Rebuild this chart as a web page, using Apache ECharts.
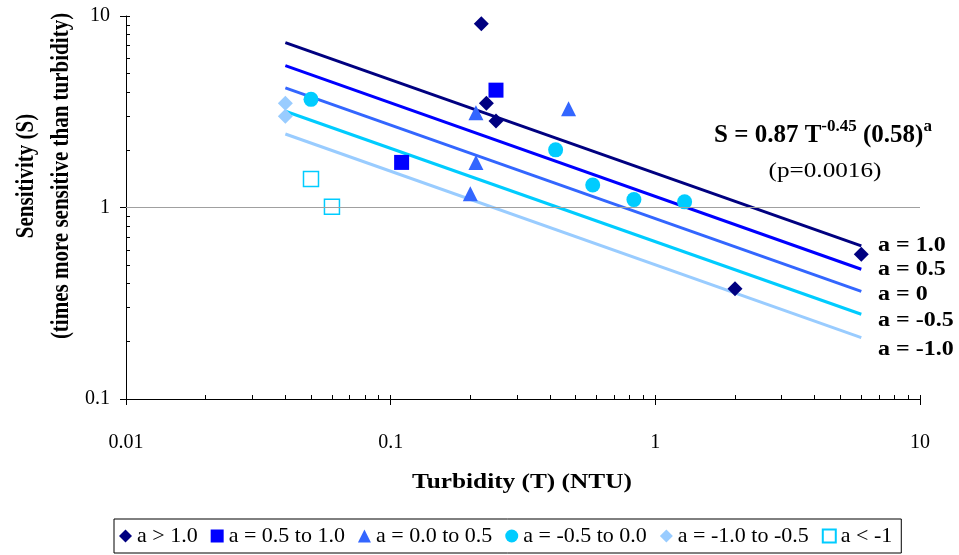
<!DOCTYPE html>
<html>
<head>
<meta charset="utf-8">
<script src="https://cdn.jsdelivr.net/npm/echarts@6/dist/echarts.min.js"></script>
<style>
html,body{margin:0;padding:0;background:#fff;}
#chart{width:959px;height:555px;}
</style>
</head>
<body>
<div id="chart"></div>
<script>
// ---- data ----
const xTickValues = [0.01, 0.1, 1, 10];
const yTickValues = [0.1, 1, 10];
const xMinorTicks = [0.01,0.02,0.03,0.04,0.05,0.06,0.07,0.08,0.09,0.1,0.2,0.3,0.4,0.5,0.6,0.7,0.8,0.9,1,2,3,4,5,6,7,8,9,10];
const yMinorTicks = [0.1,0.2,0.3,0.4,0.5,0.6,0.7,0.8,0.9,1,2,3,4,5,6,7,8,9,10];

const seriesNames = ['a > 1.0', 'a = 0.5 to 1.0', 'a = 0.0 to 0.5', 'a = -0.5 to 0.0', 'a = -1.0 to -0.5', 'a < -1'];
const aGt1     = [[0.22, 9.1], [0.23, 3.5], [0.25, 2.83], [2.0, 0.377], [6.0, 0.57]];
const a05to1   = [[0.25, 4.1], [0.11, 1.72]];
const a0to05   = [[0.21, 3.12], [0.47, 3.28], [0.21, 1.72], [0.20, 1.18]];
const aM05to0  = [[0.05, 3.67], [0.42, 2.0], [0.58, 1.31], [0.83, 1.10], [1.29, 1.07]];
const aM1toM05 = [[0.04, 3.5], [0.04, 3.0]];
const aLtM1    = [[0.05, 1.41], [0.06, 1.01]];

const fitT = [0.04, 6];
const fitNames = ['a = 1.0', 'a = 0.5', 'a = 0', 'a = -0.5', 'a = -1.0'];
const fitA1   = [7.26, 0.63];
const fitA05  = [5.51, 0.476];
const fitA0   = [4.21, 0.365];
const fitAm05 = [3.18, 0.277];
const fitAm1  = [2.42, 0.209];

// ---- styles ----
const FONT = '"Liberation Serif", "Times New Roman", serif';
const cNavy = '#000080', cBlue = '#0000FF', cMid = '#3366FF', cCyan = '#00CCFF', cLight = '#99CCFF';

function fitSeries(vals, color, withGrid) {
  const s = {
    type: 'line', data: fitT.map((t, i) => [t, vals[i]]),
    showSymbol: false, symbol: 'none', silent: true, z: 2,
    lineStyle: { color: color, width: 3 }, itemStyle: { color: color }
  };
  if (withGrid) {
    s.markLine = {
      silent: true, symbol: 'none', label: { show: false },
      lineStyle: { color: '#a0a0a0', width: 1, type: 'solid' },
      data: [{ yAxis: 1 }]
    };
  }
  return s;
}
function scatter(name, data, symbol, itemStyle) {
  itemStyle.opacity = 1;
  return { type: 'scatter', name: name, data: data, symbol: symbol, symbolSize: 15, z: 3, itemStyle: itemStyle };
}

const chart = echarts.init(document.getElementById('chart'), null, { renderer: 'canvas' });
chart.setOption({
  animation: false,
  backgroundColor: '#fff',
  grid: { left: 126, right: 39, top: 16, bottom: 156, containLabel: false },
  xAxis: [
    {
      type: 'log', min: 0.01, max: 10, position: 'bottom',
      axisLine: { show: true, lineStyle: { color: '#000', width: 1 } },
      axisTick: { show: true, inside: false, length: 6, lineStyle: { color: '#000' }, customValues: xTickValues },
      axisLabel: { show: true, customValues: xTickValues, margin: 34, color: '#000', fontFamily: FONT, fontSize: 20 },
      splitLine: { show: false }, minorTick: { show: false }
    },
    {
      type: 'log', min: 0.01, max: 10, position: 'bottom',
      axisLine: { show: false },
      axisTick: { show: true, inside: true, length: 4, lineStyle: { color: '#000' }, customValues: xMinorTicks },
      axisLabel: { show: false }, splitLine: { show: false }
    }
  ],
  yAxis: [
    {
      type: 'log', min: 0.1, max: 10, position: 'left',
      axisLine: { show: true, lineStyle: { color: '#000', width: 1 } },
      axisTick: { show: true, inside: false, length: 6, lineStyle: { color: '#000' }, customValues: yTickValues },
      axisLabel: { show: true, customValues: yTickValues, margin: 16, color: '#000', fontFamily: FONT, fontSize: 20 },
      splitLine: { show: false }
    },
    {
      type: 'log', min: 0.1, max: 10, position: 'left',
      axisLine: { show: false },
      axisTick: { show: true, inside: true, length: 4, lineStyle: { color: '#000' }, customValues: yMinorTicks },
      axisLabel: { show: false }, splitLine: { show: false }
    }
  ],
  legend: {
    data: seriesNames,
    left: 114, top: 519,
    orient: 'horizontal',
    padding: [6, 9, 6, 5],
    itemGap: 13, itemWidth: 13, itemHeight: 13,
    borderColor: '#000', borderWidth: 1, backgroundColor: '#fff',
    textStyle: { color: '#000', fontFamily: FONT, fontSize: 22 }
  },
  series: [
    fitSeries(fitAm1, cLight, true),
    fitSeries(fitAm05, cCyan),
    fitSeries(fitA0, cMid),
    fitSeries(fitA05, cBlue),
    fitSeries(fitA1, cNavy),
    scatter(seriesNames[0], aGt1, 'diamond', { color: cNavy }),
    scatter(seriesNames[1], a05to1, 'rect', { color: cBlue }),
    scatter(seriesNames[2], a0to05, 'triangle', { color: cMid }),
    scatter(seriesNames[3], aM05to0, 'circle', { color: cCyan }),
    scatter(seriesNames[4], aM1toM05, 'diamond', { color: cLight }),
    scatter(seriesNames[5], aLtM1, 'rect', { color: '#fff', borderColor: cCyan, borderWidth: 1.5 })
  ],
  graphic: [
    {
      type: 'text', x: 44, y: 176, rotation: Math.PI / 2, scaleY: 1.2,
      style: {
        text: 'Sensitivity (S)\n(times more sensitive than turbidity)',
        font: 'bold 21px ' + FONT, align: 'center', verticalAlign: 'middle', lineHeight: 29, fill: '#000'
      }
    },
    {
      type: 'text', x: 522, y: 482, scaleX: 1.15,
      style: { text: 'Turbidity (T) (NTU)', font: 'bold 22px ' + FONT, align: 'center', verticalAlign: 'middle', fill: '#000' }
    },
    {
      type: 'text', x: 714, y: 118,
      style: {
        text: '{m|S = 0.87 T}{s|-0.45}{m| (0.58)}{s|a}',
        align: 'left', verticalAlign: 'top', fill: '#000',
        rich: {
          m: { font: 'bold 25px ' + FONT, verticalAlign: 'bottom', lineHeight: 30, fill: '#000' },
          s: { font: 'bold 17px ' + FONT, verticalAlign: 'top', fill: '#000' }
        }
      }
    },
    {
      type: 'text', x: 825, y: 171.5, scaleX: 1.2,
      style: { text: '(p=0.0016)', font: '21px ' + FONT, align: 'center', verticalAlign: 'middle', fill: '#000' }
    },
    { type: 'text', x: 878, y: 246, scaleX: 1.2, style: { text: fitNames[0], font: 'bold 20px ' + FONT, align: 'left', verticalAlign: 'middle', fill: '#000' } },
    { type: 'text', x: 878, y: 270, scaleX: 1.2, style: { text: fitNames[1], font: 'bold 20px ' + FONT, align: 'left', verticalAlign: 'middle', fill: '#000' } },
    { type: 'text', x: 878, y: 295, scaleX: 1.2, style: { text: fitNames[2], font: 'bold 20px ' + FONT, align: 'left', verticalAlign: 'middle', fill: '#000' } },
    { type: 'text', x: 878, y: 321, scaleX: 1.2, style: { text: fitNames[3], font: 'bold 20px ' + FONT, align: 'left', verticalAlign: 'middle', fill: '#000' } },
    { type: 'text', x: 878, y: 350, scaleX: 1.2, style: { text: fitNames[4], font: 'bold 20px ' + FONT, align: 'left', verticalAlign: 'middle', fill: '#000' } }
  ]
});
</script>
</body>
</html>
